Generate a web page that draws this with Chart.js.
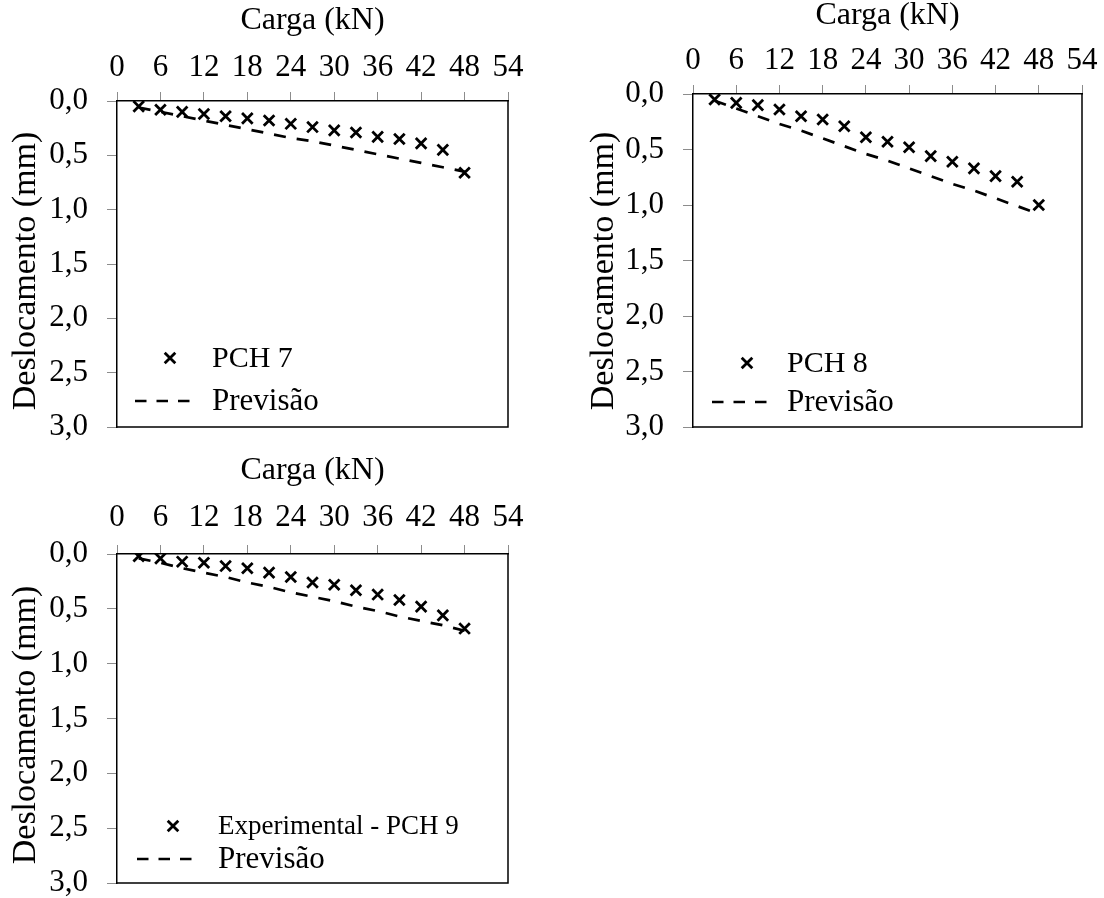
<!DOCTYPE html>
<html>
<head>
<meta charset="utf-8">
<script src="https://cdn.jsdelivr.net/npm/chart.js@4.4.1/dist/chart.umd.min.js"></script>
<style>
  html, body { margin: 0; padding: 0; background: #ffffff; }
  body { width: 1104px; height: 898px; position: relative; overflow: hidden; }
  .panel { position: absolute; }
  .panel canvas { display: block; }
</style>
</head>
<body>
<div class="panel" style="left:0px;top:0px;"><canvas id="chartPCH7" width="552" height="449"></canvas></div>
<div class="panel" style="left:552px;top:0px;"><canvas id="chartPCH8" width="552" height="449"></canvas></div>
<div class="panel" style="left:0px;top:449px;"><canvas id="chartPCH9" width="552" height="449"></canvas></div>
<script>
// Load steps (kN) shared by the three specimens
const loadKN = [3, 6, 9, 12, 15, 18, 21, 24, 27, 30, 33, 36, 39, 42, 45, 48];

// Axis ticks
const xTickValues = [0, 6, 12, 18, 24, 30, 36, 42, 48, 54];
const yTickLabels = ['0,0', '0,5', '1,0', '1,5', '2,0', '2,5', '3,0'];

// Measured displacement (mm)
const pch7Disp = [0.05, 0.08, 0.10, 0.12, 0.14, 0.16, 0.18, 0.21, 0.24, 0.27, 0.29, 0.33, 0.35, 0.39, 0.45, 0.66];
const pch8Disp = [0.05, 0.08, 0.10, 0.14, 0.20, 0.23, 0.29, 0.39, 0.43, 0.48, 0.56, 0.61, 0.67, 0.74, 0.79, 1.00];
const pch9Disp = [0.02, 0.04, 0.07, 0.08, 0.11, 0.13, 0.17, 0.21, 0.26, 0.28, 0.33, 0.37, 0.42, 0.48, 0.56, 0.68];

// Predicted displacement (mm)
const prev7Disp = [0.06, 0.10, 0.14, 0.18, 0.22, 0.26, 0.30, 0.34, 0.37, 0.41, 0.45, 0.49, 0.53, 0.57, 0.61, 0.65];
const prev8Disp = [0.06, 0.13, 0.20, 0.27, 0.33, 0.40, 0.47, 0.54, 0.60, 0.67, 0.74, 0.81, 0.87, 0.94, 1.01, 1.08];
const prev9Disp = [0.04, 0.08, 0.13, 0.17, 0.21, 0.26, 0.30, 0.35, 0.39, 0.43, 0.48, 0.52, 0.57, 0.61, 0.65, 0.70];

const SERIF = "'Liberation Serif', 'Times New Roman', serif";
const DASH = [12, 11];

function toPoints(ys) {
  return loadKN.map((x, i) => ({ x: x, y: ys[i] }));
}

// Draws the closing frame of the plot box, the vertical axis title and the inset legend
const frameAndLegend = {
  id: 'frameAndLegend',
  afterDraw(chart, args, opts) {
    const { ctx, chartArea: a } = chart;
    ctx.save();
    ctx.strokeStyle = '#000';
    ctx.lineWidth = 1.5;
    ctx.setLineDash([]);
    ctx.beginPath();
    ctx.moveTo(a.left, a.bottom);
    ctx.lineTo(a.right, a.bottom);
    ctx.lineTo(a.right, a.top);
    ctx.stroke();

    // vertical axis title
    const yt = opts.yTitle;
    ctx.save();
    ctx.translate(yt.cx, yt.cy);
    ctx.rotate(-Math.PI / 2);
    ctx.font = yt.fontSize + 'px ' + SERIF;
    ctx.fillStyle = '#000';
    ctx.textAlign = 'center';
    ctx.textBaseline = 'middle';
    ctx.fillText(yt.text, 0, 0);
    ctx.restore();

    // legend inside the plot box
    const lg = opts.legend;
    ctx.fillStyle = '#000';
    ctx.textBaseline = 'middle';
    ctx.textAlign = 'left';
    chart.data.datasets.forEach((ds, i) => {
      const y = a.bottom - lg.rowsFromBottom[i];
      if (ds.showLine) {
        ctx.lineWidth = ds.borderWidth;
        ctx.setLineDash(lg.sampleDash);
        ctx.beginPath();
        ctx.moveTo(a.left + lg.sampleFrom, y);
        ctx.lineTo(a.left + lg.sampleTo, y);
        ctx.stroke();
        ctx.setLineDash([]);
      } else {
        const cx = a.left + lg.markerX;
        const r = ds.pointRadius * Math.SQRT1_2;
        ctx.lineWidth = ds.pointBorderWidth;
        ctx.beginPath();
        ctx.moveTo(cx - r, y - r); ctx.lineTo(cx + r, y + r);
        ctx.moveTo(cx - r, y + r); ctx.lineTo(cx + r, y - r);
        ctx.stroke();
      }
      ctx.font = lg.fontSizes[i] + 'px ' + SERIF;
      ctx.fillText(ds.label, a.left + lg.textX, y + 1);
    });
    ctx.restore();
  }
};

function buildChart(canvasId, cfg) {
  const canvas = document.getElementById(canvasId);
  const W = canvas.width, H = canvas.height;
  const area = cfg.area;
  return new Chart(canvas, {
    type: 'scatter',
    data: {
      datasets: [
        {
          label: cfg.expLabel,
          data: toPoints(cfg.measured),
          showLine: false,
          pointStyle: 'crossRot',
          pointRadius: 7.5,
          pointBorderWidth: 2.8,
          pointBorderColor: '#000',
          pointBackgroundColor: '#000',
          borderColor: '#000',
          order: 1
        },
        {
          label: 'Previsão',
          data: toPoints(cfg.predicted),
          showLine: true,
          borderColor: '#000',
          borderWidth: 2.7,
          borderDash: DASH,
          pointRadius: 0,
          fill: false,
          tension: 0,
          order: 2
        }
      ]
    },
    options: {
      responsive: false,
      animation: false,
      events: [],
      layout: {
        padding: { left: 0, top: 0, right: W - area.right, bottom: H - area.bottom }
      },
      plugins: {
        legend: { display: false },
        tooltip: { enabled: false },
        frameAndLegend: {
          legend: cfg.legend,
          yTitle: { text: 'Deslocamento (mm)', fontSize: 34, cx: cfg.yTitleX, cy: cfg.yTitleY }
        }
      },
      scales: {
        x: {
          type: 'linear',
          position: 'top',
          min: 0,
          max: 54,
          afterBuildTicks: (s) => { s.ticks = xTickValues.map(v => ({ value: v })); },
          afterFit: (s) => { s.height = area.top; s.paddingLeft = 0; s.paddingRight = 0; },
          ticks: {
            color: '#000',
            font: { family: SERIF, size: 31 },
            padding: cfg.xTickPad,
            maxRotation: 0,
            autoSkip: false
          },
          grid: {
            drawOnChartArea: false,
            drawTicks: true,
            tickLength: 9,
            tickColor: '#8c8c8c',
            tickWidth: 1
          },
          border: { display: true, color: '#000', width: 1.5 },
          title: {
            display: true,
            text: 'Carga (kN)',
            color: '#000',
            font: { family: SERIF, size: 32, lineHeight: 1 },
            padding: { top: cfg.xTitlePad, bottom: 0 }
          }
        },
        y: {
          type: 'linear',
          position: 'left',
          reverse: true,
          min: 0,
          max: 3,
          afterBuildTicks: (s) => { s.ticks = yTickLabels.map((t, i) => ({ value: i * 0.5 })); },
          afterFit: (s) => { s.width = area.left; s.paddingTop = 0; s.paddingBottom = 0; },
          ticks: {
            color: '#000',
            font: { family: SERIF, size: 31 },
            padding: 19,
            autoSkip: false,
            callback: (v, i) => yTickLabels[i]
          },
          grid: {
            drawOnChartArea: false,
            drawTicks: true,
            tickLength: 10,
            tickColor: '#8c8c8c',
            tickWidth: 1
          },
          border: { display: true, color: '#000', width: 1.5 },
          title: { display: false }
        }
      }
    },
    plugins: [frameAndLegend]
  });
}

buildChart('chartPCH7', {
  area: { left: 117, top: 101, right: 508, bottom: 427 },
  measured: pch7Disp,
  predicted: prev7Disp,
  expLabel: 'PCH 7',
  xTitlePad: 5,
  xTickPad: 6,
  yTitleX: 26,
  yTitleY: 271,
  legend: { fontSizes: [30, 31], markerX: 53, sampleFrom: 18, sampleTo: 75, textX: 95, rowsFromBottom: [69, 26], sampleDash: [11.5, 10] }
});

buildChart('chartPCH8', {
  area: { left: 141, top: 94, right: 530, bottom: 427 },
  measured: pch8Disp,
  predicted: prev8Disp,
  expLabel: 'PCH 8',
  xTitlePad: 0,
  xTickPad: 6,
  yTitleX: 52,
  yTitleY: 271,
  legend: { fontSizes: [30, 31], markerX: 54, sampleFrom: 19, sampleTo: 77, textX: 94, rowsFromBottom: [64, 25], sampleDash: [11.5, 10] }
});

buildChart('chartPCH9', {
  area: { left: 117, top: 105, right: 508, bottom: 434 },
  measured: pch9Disp,
  predicted: prev9Disp,
  expLabel: 'Experimental - PCH 9',
  xTitlePad: 6,
  xTickPad: 9,
  yTitleX: 26,
  yTitleY: 276,
  legend: { fontSizes: [27, 31], markerX: 56, sampleFrom: 20, sampleTo: 81, textX: 101, rowsFromBottom: [57, 24], sampleDash: [11.5, 10] }
});
</script>
</body>
</html>
